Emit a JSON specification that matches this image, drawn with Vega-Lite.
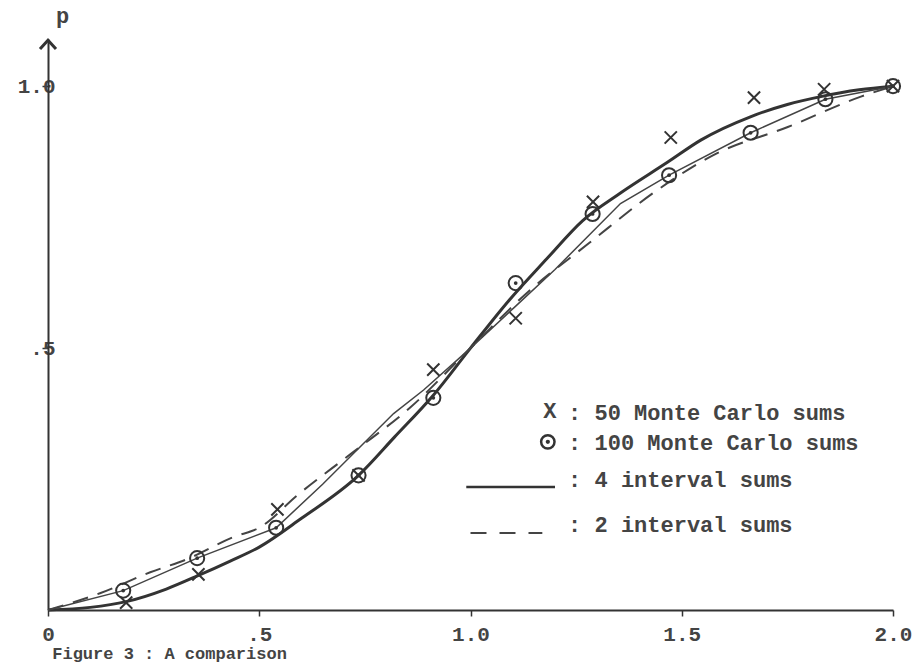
{
  "$schema": "https://vega.github.io/schema/vega-lite/v6.json",
  "width": 845,
  "height": 571,
  "autosize": {"type": "none"},
  "padding": {"left": 48, "top": 39, "right": 20, "bottom": 55},
  "background": "white",
  "config": {
    "view": {"stroke": null},
    "font": "Liberation Mono",
    "axis": {"grid": false, "domainColor": "#333", "domainWidth": 2, "tickColor": "#333", "tickWidth": 1.5, "labelFont": "Liberation Mono", "labelFontSize": 21, "labelFontWeight": "bold", "labelColor": "#444", "labelFlush": false, "labelOverlap": false}
  },
  "datasets": {
    "thick": [
      {"x": 0, "p": 0}, {"x": 0.1, "p": 0.005}, {"x": 0.185, "p": 0.016}, {"x": 0.28, "p": 0.04}, {"x": 0.356, "p": 0.066}, {"x": 0.43, "p": 0.093}, {"x": 0.5, "p": 0.12}, {"x": 0.6, "p": 0.175}, {"x": 0.735, "p": 0.257}, {"x": 0.82, "p": 0.33}, {"x": 0.912, "p": 0.41}, {"x": 1.0, "p": 0.5}, {"x": 1.09, "p": 0.59}, {"x": 1.18, "p": 0.67}, {"x": 1.265, "p": 0.743}, {"x": 1.355, "p": 0.796}, {"x": 1.467, "p": 0.855}, {"x": 1.545, "p": 0.897}, {"x": 1.664, "p": 0.942}, {"x": 1.75, "p": 0.965}, {"x": 1.829, "p": 0.98}, {"x": 1.92, "p": 0.993}, {"x": 2.0, "p": 1.0}
    ],
    "thin": [
      {"x": 0, "p": 0}, {"x": 0.178, "p": 0.037}, {"x": 0.353, "p": 0.099}, {"x": 0.54, "p": 0.157}, {"x": 0.65, "p": 0.24}, {"x": 0.818, "p": 0.375}, {"x": 0.889, "p": 0.42}, {"x": 1.0, "p": 0.5}, {"x": 1.107, "p": 0.58}, {"x": 1.2, "p": 0.65}, {"x": 1.355, "p": 0.776}, {"x": 1.47, "p": 0.83}, {"x": 1.663, "p": 0.911}, {"x": 1.84, "p": 0.975}, {"x": 2.0, "p": 1.0}
    ],
    "dashed": [
      {"x": 0, "p": 0}, {"x": 0.123, "p": 0.032}, {"x": 0.242, "p": 0.072}, {"x": 0.329, "p": 0.097}, {"x": 0.438, "p": 0.139}, {"x": 0.502, "p": 0.158}, {"x": 0.59, "p": 0.219}, {"x": 0.72, "p": 0.3}, {"x": 0.858, "p": 0.387}, {"x": 1.0, "p": 0.5}, {"x": 1.14, "p": 0.61}, {"x": 1.28, "p": 0.7}, {"x": 1.443, "p": 0.802}, {"x": 1.576, "p": 0.869}, {"x": 1.751, "p": 0.922}, {"x": 1.924, "p": 0.98}, {"x": 2.0, "p": 1.0}
    ],
    "mc50": [
      {"x": 0.185, "p": 0.014}, {"x": 0.356, "p": 0.068}, {"x": 0.543, "p": 0.192}, {"x": 0.735, "p": 0.257}, {"x": 0.912, "p": 0.459}, {"x": 1.107, "p": 0.557}, {"x": 1.29, "p": 0.779}, {"x": 1.474, "p": 0.902}, {"x": 1.671, "p": 0.978}, {"x": 1.837, "p": 0.994}, {"x": 2.0, "p": 1.0}
    ],
    "mc100": [
      {"x": 0.178, "p": 0.037}, {"x": 0.353, "p": 0.099}, {"x": 0.54, "p": 0.157}, {"x": 0.735, "p": 0.257}, {"x": 0.912, "p": 0.405}, {"x": 1.107, "p": 0.624}, {"x": 1.289, "p": 0.756}, {"x": 1.47, "p": 0.83}, {"x": 1.663, "p": 0.911}, {"x": 1.84, "p": 0.975}, {"x": 2.0, "p": 1.0}
    ],
    "legendText": [
      {"x": 1.231, "p": 0.376, "label": ": 50 Monte Carlo sums"},
      {"x": 1.231, "p": 0.319, "label": ": 100 Monte Carlo sums"},
      {"x": 1.231, "p": 0.248, "label": ": 4 interval sums"},
      {"x": 1.231, "p": 0.162, "label": ": 2 interval sums"}
    ],
    "legendX": [{"x": 1.188, "p": 0.38, "label": "X"}],
    "legendO": [{"x": 1.183, "p": 0.321}],
    "legendSolid": [{"x": 0.99, "x2": 1.2, "p": 0.235}],
    "legendDash": [{"x": 1.0, "x2": 1.17, "p": 0.147}],
    "arrow": [{"x": 0, "p": 1.08}],
    "caption": [{"x": 0.01, "p": -0.0935, "label": "Figure 3 : A comparison"}]
  },
  "layer": [
    {
      "data": {"name": "thick"},
      "mark": {"type": "line", "color": "#333", "strokeWidth": 3, "interpolate": "monotone"},
      "encoding": {
        "x": {"field": "x", "type": "quantitative", "scale": {"domain": [0, 2], "nice": false, "zero": false},
          "axis": {"values": [0, 0.5, 1, 1.5, 2], "title": null, "tickSize": 6, "labelPadding": 7,
            "labelExpr": "datum.value == 0 ? '0' : datum.value == 0.5 ? '.5' : format(datum.value, '.1f')"}},
        "y": {"field": "p", "type": "quantitative", "scale": {"domain": [0, 1.09], "nice": false},
          "axis": {"values": [0.5, 1], "title": "p", "titleAngle": 0, "titleX": 14, "titleY": -24, "titleAlign": "center", "titleBaseline": "middle", "titleFont": "Liberation Mono", "titleFontSize": 22, "titleFontWeight": "bold", "titleColor": "#444",
            "tickSize": 6, "labelPadding": -13, "labelAlign": "right", "labelBaseline": "middle", "labelDy": -5,
            "labelExpr": "datum.value == 0.5 ? '.5' : '1.0'"}}
      }
    },
    {
      "data": {"name": "thin"},
      "mark": {"type": "line", "color": "#444", "strokeWidth": 1.5},
      "encoding": {"x": {"field": "x", "type": "quantitative"}, "y": {"field": "p", "type": "quantitative"}}
    },
    {
      "data": {"name": "dashed"},
      "mark": {"type": "line", "color": "#444", "strokeWidth": 2, "strokeDash": [16, 10], "interpolate": "monotone"},
      "encoding": {"x": {"field": "x", "type": "quantitative"}, "y": {"field": "p", "type": "quantitative"}}
    },
    {
      "data": {"name": "mc100"},
      "mark": {"type": "point", "shape": "circle", "size": 200, "filled": false, "color": "#333", "strokeWidth": 2, "opacity": 1},
      "encoding": {"x": {"field": "x", "type": "quantitative"}, "y": {"field": "p", "type": "quantitative"}}
    },
    {
      "data": {"name": "mc100"},
      "mark": {"type": "point", "shape": "circle", "size": 14, "filled": true, "color": "#333", "opacity": 1},
      "encoding": {"x": {"field": "x", "type": "quantitative"}, "y": {"field": "p", "type": "quantitative"}}
    },
    {
      "data": {"name": "mc50"},
      "mark": {"type": "point", "shape": "M-1,-1L1,1M-1,1L1,-1", "size": 150, "filled": false, "color": "#333", "strokeWidth": 2, "opacity": 1},
      "encoding": {"x": {"field": "x", "type": "quantitative"}, "y": {"field": "p", "type": "quantitative"}}
    },
    {
      "data": {"name": "legendX"},
      "mark": {"type": "text", "align": "center", "baseline": "middle", "font": "Liberation Mono", "fontSize": 22, "fontWeight": "bold", "color": "#444"},
      "encoding": {"x": {"field": "x", "type": "quantitative"}, "y": {"field": "p", "type": "quantitative"}, "text": {"field": "label"}}
    },
    {
      "data": {"name": "legendO"},
      "mark": {"type": "point", "shape": "circle", "size": 180, "filled": false, "color": "#333", "strokeWidth": 2.5, "opacity": 1},
      "encoding": {"x": {"field": "x", "type": "quantitative"}, "y": {"field": "p", "type": "quantitative"}}
    },
    {
      "data": {"name": "legendO"},
      "mark": {"type": "point", "shape": "circle", "size": 18, "filled": true, "color": "#333", "opacity": 1},
      "encoding": {"x": {"field": "x", "type": "quantitative"}, "y": {"field": "p", "type": "quantitative"}}
    },
    {
      "data": {"name": "legendSolid"},
      "mark": {"type": "rule", "color": "#333", "strokeWidth": 2.5},
      "encoding": {"x": {"field": "x", "type": "quantitative"}, "x2": {"field": "x2"}, "y": {"field": "p", "type": "quantitative"}}
    },
    {
      "data": {"name": "legendDash"},
      "mark": {"type": "rule", "color": "#444", "strokeWidth": 2, "strokeDash": [16, 13]},
      "encoding": {"x": {"field": "x", "type": "quantitative"}, "x2": {"field": "x2"}, "y": {"field": "p", "type": "quantitative"}}
    },
    {
      "data": {"name": "legendText"},
      "mark": {"type": "text", "align": "left", "baseline": "middle", "font": "Liberation Mono", "fontSize": 22, "fontWeight": "bold", "color": "#444"},
      "encoding": {"x": {"field": "x", "type": "quantitative"}, "y": {"field": "p", "type": "quantitative"}, "text": {"field": "label"}}
    },
    {
      "data": {"name": "arrow"},
      "mark": {"type": "point", "shape": "M-1,0.6L0,-0.5L1,0.6", "size": 256, "filled": false, "color": "#333", "strokeWidth": 3, "opacity": 1},
      "encoding": {"x": {"field": "x", "type": "quantitative"}, "y": {"field": "p", "type": "quantitative"}}
    },
    {
      "data": {"name": "caption"},
      "mark": {"type": "text", "align": "left", "baseline": "alphabetic", "font": "Liberation Mono", "fontSize": 17, "fontWeight": "bold", "color": "#444"},
      "encoding": {"x": {"field": "x", "type": "quantitative"}, "y": {"field": "p", "type": "quantitative"}, "text": {"field": "label"}}
    }
  ]
}
